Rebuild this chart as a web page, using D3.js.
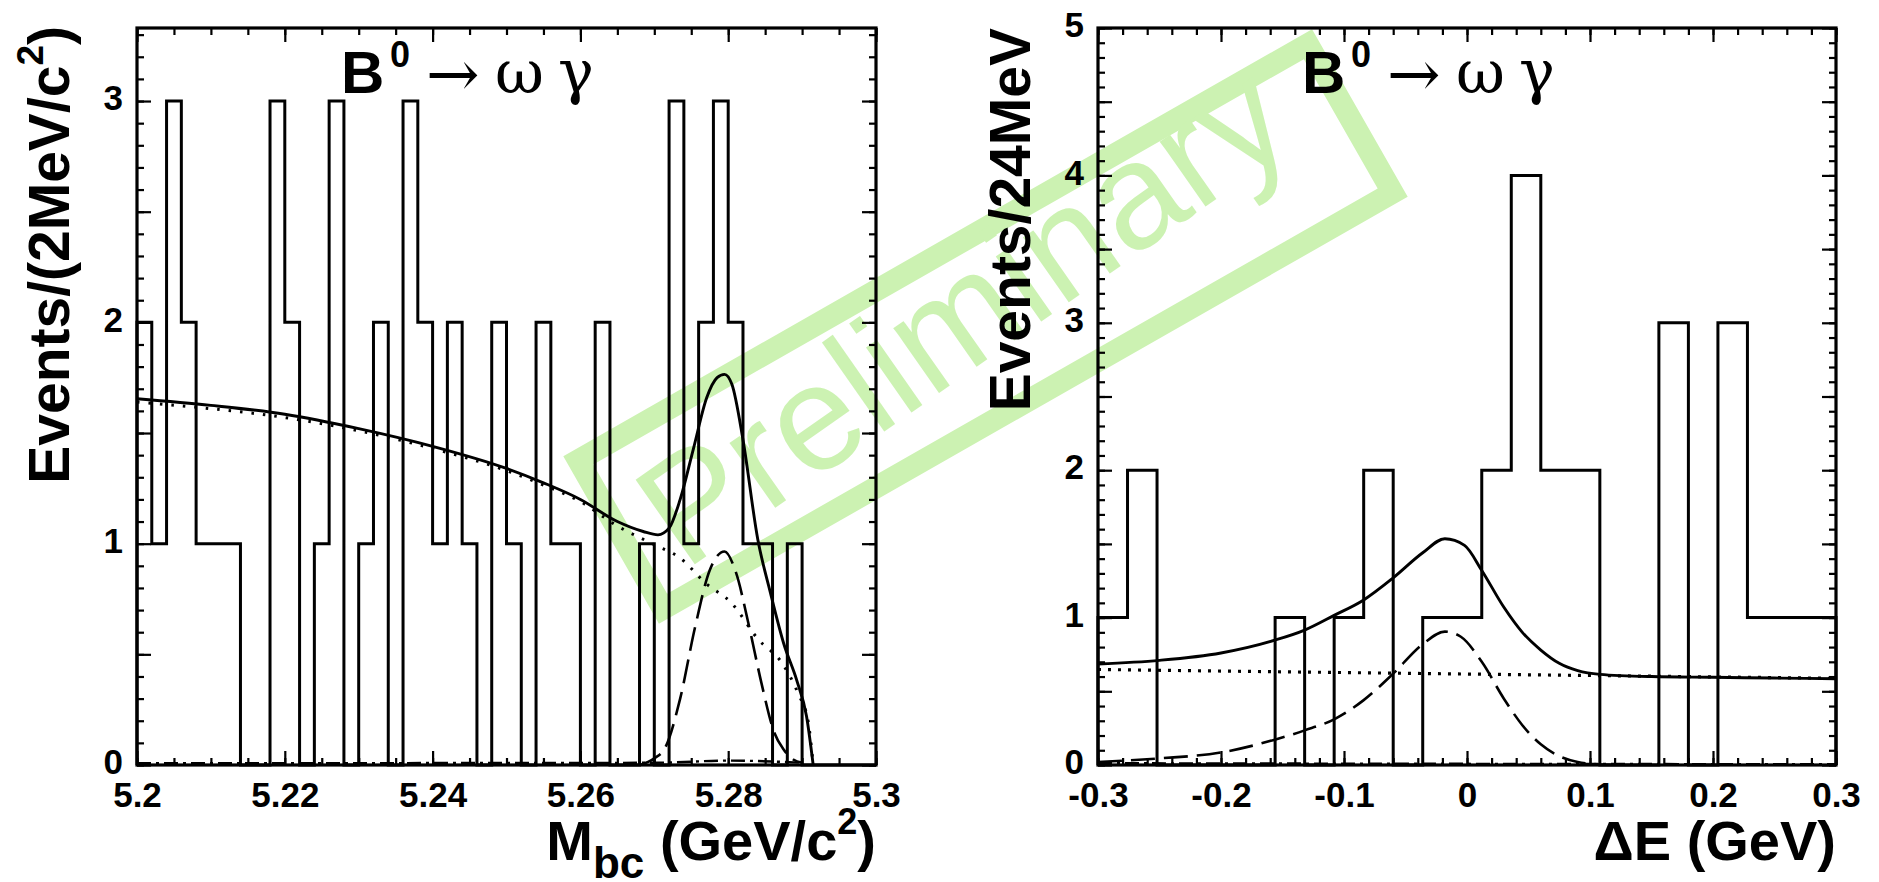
<!DOCTYPE html>
<html><head><meta charset="utf-8">
<script src="https://cdn.jsdelivr.net/npm/d3@7"></script>
<style>html,body{margin:0;padding:0;background:#fff}svg{display:block}</style>
</head><body>
<svg id="c" width="1879" height="882"></svg>
<script>
// ---------------- DATA ----------------
// Left panel: Mbc histogram, 2 MeV/c^2 bins from 5.20 to 5.30
const mbcRange = [5.2, 5.3];
const mbcBinWidth = 0.002;
const mbcYMax = 3.33;
const mbcCounts = [2,1,3,2,1,1,1,0,0,3, 2,0,1,3,0,1,2,0,3,2, 1,2,1,0,2,1,0,2,1,1,
                   0,2,0,0,1,0,3,1,2,3, 2,1,1,0,1,0,0,0,0,0];
// fit curves
const mbcTotalX = [5.2,5.21,5.22,5.23,5.24,5.25,5.255,5.26,5.265,5.2685,5.2705,5.272,5.2735,5.2753,5.2771,5.2785,5.2795,5.2805,5.282,5.284,5.2857,5.2875,5.2893,5.2906,5.2915];
const mbcTotalY = [1.655,1.625,1.585,1.52,1.44,1.34,1.275,1.2,1.1,1.055,1.04,1.07,1.2,1.43,1.66,1.75,1.765,1.72,1.47,1.02,0.78,0.55,0.38,0.22,0.0];
const mbcBkgX = [5.2,5.21,5.22,5.23,5.24,5.25,5.255,5.26,5.265,5.27,5.2735,5.277,5.2805,5.284,5.2875,5.2895,5.2908,5.2915];
const mbcBkgY = [1.64,1.61,1.57,1.51,1.43,1.33,1.265,1.19,1.08,0.995,0.935,0.82,0.73,0.57,0.45,0.32,0.2,0.0];
const mbcSigX = [5.268,5.27,5.2715,5.2735,5.2755,5.2775,5.2795,5.281,5.2828,5.2845,5.2862,5.2875,5.2888,5.29];
const mbcSigY = [0.0,0.03,0.08,0.30,0.62,0.88,0.965,0.875,0.63,0.37,0.15,0.07,0.025,0.01];
const mbcPeakX = [5.2,5.27,5.28,5.29];
const mbcPeakY = [0.008,0.01,0.02,0.01];
const mbcXTicks = [5.2,5.22,5.24,5.26,5.28,5.3];
const mbcXLabels = ["5.2","5.22","5.24","5.26","5.28","5.3"];
const mbcYTicks = [0,1,2,3];
const mbcYLabels = ["0","1","2","3"];

// Right panel: Delta E histogram, 24 MeV bins from -0.3 to 0.3
const deRange = [-0.3, 0.3];
const deBinWidth = 0.024;
const deYMax = 5;
const deCounts = [1,2,0,0,0,0,1,0,1,2,0,1,1,2,4,2,2,0,0,3,0,3,1,1,1];
const deTotalX = [-0.3,-0.25,-0.2,-0.157,-0.132,-0.108,-0.084,-0.06,-0.036,-0.018,-0.002,0.012,0.03,0.045,0.06,0.075,0.09,0.108,0.15,0.2,0.25,0.3];
const deTotalY = [0.685,0.71,0.76,0.845,0.915,1.015,1.12,1.27,1.44,1.535,1.49,1.32,1.07,0.9,0.78,0.69,0.64,0.615,0.6,0.595,0.59,0.585];
const deSigX = [-0.3,-0.25,-0.2,-0.157,-0.132,-0.108,-0.084,-0.06,-0.036,-0.018,-0.005,0.012,0.03,0.045,0.06,0.075,0.09,0.105,0.12];
const deSigY = [0.02,0.045,0.085,0.17,0.235,0.31,0.44,0.62,0.82,0.905,0.87,0.70,0.45,0.27,0.14,0.06,0.02,0.005,0.0];
const deBkgX = [-0.3,0.0,0.3];
const deBkgY = [0.648,0.617,0.588];
const dePeakX = [-0.3,0.0,0.3];
const dePeakY = [0.012,0.008,0.005];
const deXTicks = [-0.3,-0.2,-0.1,0,0.1,0.2,0.3];
const deXLabels = ["-0.3","-0.2","-0.1","0","0.1","0.2","0.3"];
const deYTicks = [0,1,2,3,4,5];
const deYLabels = ["0","1","2","3","4","5"];

// ---------------- DRAW ----------------
const SANS = "'Liberation Sans', Arial, Helvetica, sans-serif";
const GREEK = "'DejaVu Serif', 'Liberation Serif', serif";
const GREEN = "rgb(204,242,178)";
const svg = d3.select("#c");

// watermark (drawn first, underneath)
svg.append("g").attr("transform","translate(985.5,326.5) rotate(-29.7)")
  .append("rect").attr("x",-420).attr("y",-85.5).attr("width",840).attr("height",171)
  .attr("fill","none").attr("stroke",GREEN).attr("stroke-width",22);
svg.append("text").attr("transform","translate(992,356) rotate(-35)")
  .attr("text-anchor","middle").attr("font-family",SANS).attr("font-size",150)
  .attr("fill",GREEN).text("Preliminary");

function panel(o){
  const x = d3.scaleLinear().domain(o.xDomain).range([o.x0,o.x1]);
  const y = d3.scaleLinear().domain([0,o.yMax]).range([o.y1,o.y0]);
  const g = svg.append("g");
  const cid = "clip"+o.id;
  svg.append("defs").append("clipPath").attr("id",cid).append("rect")
    .attr("x",o.x0).attr("y",o.y0).attr("width",o.x1-o.x0).attr("height",o.y1-o.y0);

  // histogram
  const n = o.counts.length;
  const p = d3.path();
  p.moveTo(x(o.xDomain[0]), y(0));
  o.counts.forEach((c,i)=>{
    p.lineTo(x(o.xDomain[0]+i*o.binW), y(c));
    p.lineTo(x(o.xDomain[0]+(i+1)*o.binW), y(c));
  });
  p.lineTo(x(o.xDomain[0]+n*o.binW), y(0));
  g.append("path").attr("d",p.toString()).attr("fill","none").attr("stroke","#000")
    .attr("stroke-width",3).attr("stroke-linejoin","miter");

  // curves
  const cg = g.append("g").attr("clip-path",`url(#${cid})`);
  o.curves.forEach(cv=>{
    const pts = cv.xs.map((v,i)=>[v,cv.ys[i]]);
    const line = d3.line().x(d=>x(d[0])).y(d=>y(d[1])).curve(d3.curveMonotoneX);
    cg.append("path").attr("d",line(pts)).attr("fill","none").attr("stroke","#000")
      .attr("stroke-width",cv.w).attr("stroke-dasharray",cv.dash||null);
  });

  // axes ticks
  function styleAxis(a){ a.select(".domain").remove(); a.selectAll(".tick line").attr("stroke-width",2.2);
    a.attr("font-family",SANS).attr("font-size",35).attr("font-weight","bold"); a.selectAll("text").attr("fill","#000"); }
  const fmtX = d=>{const i=o.xTicks.findIndex(t=>Math.abs(t-d)<1e-9); return i>=0?o.xLabels[i]:"";};
  const fmtY = d=>{const i=o.yTicks.findIndex(t=>Math.abs(t-d)<1e-9); return i>=0?o.yLabels[i]:"";};
  const yHalf = d3.range(0, Math.floor(o.yMax*2+1e-9)+1).map(i=>i*0.5);
  const yMinor = d3.range(0, Math.floor(o.yMax*10+1e-9)+1).map(i=>i*0.1);
  const xMinor = d3.range(0, Math.round((o.xDomain[1]-o.xDomain[0])/o.xMinorStep)+1).map(i=>o.xDomain[0]+i*o.xMinorStep);

  g.append("g").attr("transform",`translate(0,${o.y1})`)
    .call(d3.axisBottom(x).tickValues(o.xTicks).tickSize(-14).tickPadding(17).tickFormat(fmtX)).call(styleAxis);
  g.append("g").attr("transform",`translate(0,${o.y1})`)
    .call(d3.axisBottom(x).tickValues(xMinor).tickSize(-7).tickFormat("")).call(styleAxis);
  g.append("g").attr("transform",`translate(0,${o.y0})`)
    .call(d3.axisTop(x).tickValues(o.xTicks).tickSize(-14).tickFormat("")).call(styleAxis);
  g.append("g").attr("transform",`translate(0,${o.y0})`)
    .call(d3.axisTop(x).tickValues(xMinor).tickSize(-7).tickFormat("")).call(styleAxis);
  const la = g.append("g").attr("transform",`translate(${o.x0},0)`)
    .call(d3.axisLeft(y).tickValues(yHalf).tickSize(-14).tickPadding(14).tickFormat(fmtY)).call(styleAxis);
  la.selectAll("text").attr("dy","0.25em");
  g.append("g").attr("transform",`translate(${o.x0},0)`)
    .call(d3.axisLeft(y).tickValues(yMinor).tickSize(-7).tickFormat("")).call(styleAxis);
  g.append("g").attr("transform",`translate(${o.x1},0)`)
    .call(d3.axisRight(y).tickValues(yHalf).tickSize(-14).tickFormat("")).call(styleAxis);
  g.append("g").attr("transform",`translate(${o.x1},0)`)
    .call(d3.axisRight(y).tickValues(yMinor).tickSize(-7).tickFormat("")).call(styleAxis);

  // frame
  g.append("rect").attr("x",o.x0).attr("y",o.y0).attr("width",o.x1-o.x0).attr("height",o.y1-o.y0)
    .attr("fill","none").attr("stroke","#000").attr("stroke-width",3.2);

  // title B0 -> omega gamma
  const t = g.append("text").attr("fill","#000");
  t.append("tspan").attr("x",o.x0+204).attr("y",93).attr("font-family",SANS).attr("font-weight","bold").attr("font-size",60).text("B");
  t.append("tspan").attr("x",o.x0+253).attr("y",67).attr("font-family",SANS).attr("font-weight","bold").attr("font-size",36).text("0");
  t.append("tspan").attr("x",o.x0+289).attr("y",96).attr("font-family","'DejaVu Serif', serif").attr("font-size",64).text("\u2192");
  t.append("tspan").attr("x",o.x0+358).attr("y",93).attr("font-family",GREEK).attr("font-size",60).text("\u03c9");
  t.append("tspan").attr("x",o.x0+421).attr("y",93).attr("font-family",GREEK).attr("font-size",60).text("\u03b3");

  o.titles(g);
  return {x,y};
}

panel({id:"L", x0:137, x1:876, y0:28, y1:765, xDomain:mbcRange, yMax:mbcYMax,
  counts:mbcCounts, binW:mbcBinWidth, xMinorStep:0.005,
  xTicks:mbcXTicks, xLabels:mbcXLabels, yTicks:mbcYTicks, yLabels:mbcYLabels,
  curves:[
    {xs:mbcPeakX, ys:mbcPeakY, w:2.4, dash:"14,5,3,5"},
    {xs:mbcBkgX, ys:mbcBkgY, w:3, dash:"2.5,9"},
    {xs:mbcSigX, ys:mbcSigY, w:2.6, dash:"24,9"},
    {xs:mbcTotalX, ys:mbcTotalY, w:2.9}
  ],
  titles:(g)=>{
    const xt = g.append("text").attr("x",876).attr("y",860).attr("text-anchor","end")
      .attr("font-family",SANS).attr("font-weight","bold").attr("font-size",56).attr("fill","#000");
    xt.append("tspan").text("M");
    xt.append("tspan").attr("font-size",44).attr("dy",18).text("bc");
    xt.append("tspan").attr("dy",-18).text(" (GeV/c");
    xt.append("tspan").attr("font-size",36).attr("dy",-26).text("2");
    xt.append("tspan").attr("dy",26).text(")");
    const yt = g.append("text").attr("transform","translate(69,26) rotate(-90)").attr("text-anchor","end")
      .attr("font-family",SANS).attr("font-weight","bold").attr("font-size",57).attr("fill","#000");
    yt.append("tspan").text("Events/(2MeV/c");
    yt.append("tspan").attr("font-size",37).attr("dy",-26).text("2");
    yt.append("tspan").attr("dy",26).text(")");
  }
});

panel({id:"R", x0:1098, x1:1836, y0:28, y1:765, xDomain:deRange, yMax:deYMax,
  counts:deCounts, binW:deBinWidth, xMinorStep:0.02,
  xTicks:deXTicks, xLabels:deXLabels, yTicks:deYTicks, yLabels:deYLabels,
  curves:[
    {xs:dePeakX, ys:dePeakY, w:2.4, dash:"14,5,3,5"},
    {xs:deBkgX, ys:deBkgY, w:3.2, dash:"3,7"},
    {xs:deSigX, ys:deSigY, w:2.6, dash:"24,9"},
    {xs:deTotalX, ys:deTotalY, w:2.9}
  ],
  titles:(g)=>{
    g.append("text").attr("x",1836).attr("y",860).attr("text-anchor","end")
      .attr("font-family",SANS).attr("font-weight","bold").attr("font-size",56).attr("fill","#000")
      .text("\u0394E (GeV)");
    g.append("text").attr("transform","translate(1030,28) rotate(-90)").attr("text-anchor","end")
      .attr("font-family",SANS).attr("font-weight","bold").attr("font-size",57).attr("fill","#000")
      .text("Events/24MeV");
  }
});
</script>
</body></html>
